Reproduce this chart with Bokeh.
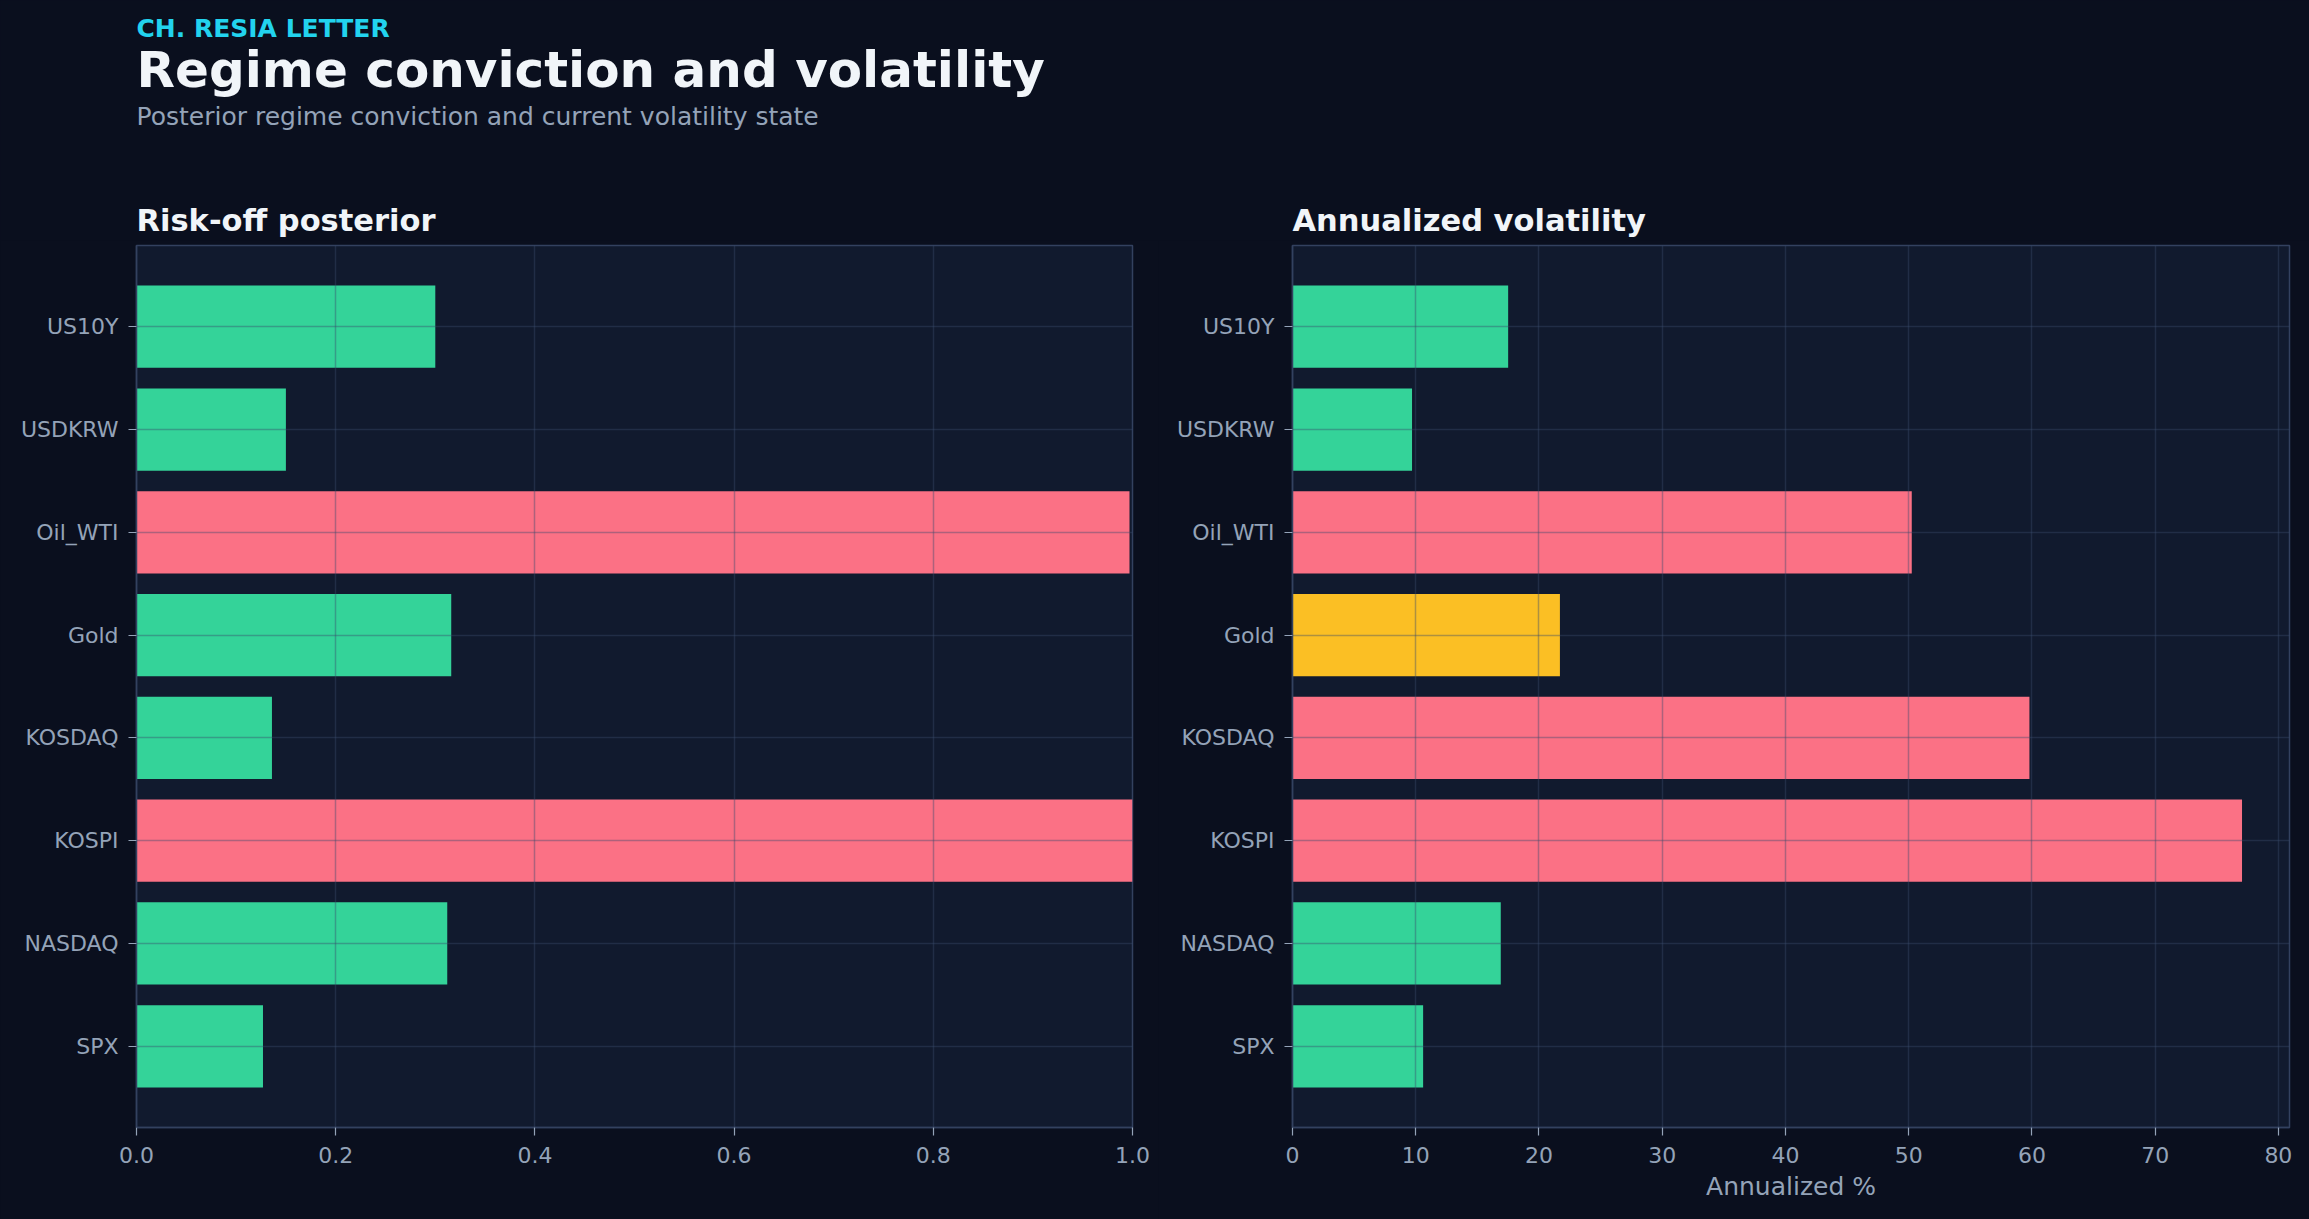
from bokeh.plotting import figure
from bokeh.layouts import row, column
from bokeh.models import (FactorRange, Range1d, FixedTicker, PrintfTickFormatter,
                          ColumnDataSource, GlobalInlineStyleSheet)
from bokeh.core.properties import value
from bokeh.embed import file_html
from bokeh.resources import INLINE

# ---------------- data ----------------
assets = ["US10Y", "USDKRW", "Oil_WTI", "Gold", "KOSDAQ", "KOSPI", "NASDAQ", "SPX"]  # top -> bottom
risk_off_posterior = [0.300, 0.150, 0.997, 0.316, 0.136, 1.000, 0.312, 0.127]
regime = ["risk_on", "risk_on", "risk_off", "risk_on", "risk_on", "risk_off", "risk_on", "risk_on"]
annualized_vol = [17.5, 9.7, 50.25, 21.7, 59.8, 77.05, 16.9, 10.6]
vol_state = ["low", "low", "high", "medium", "high", "high", "low", "low"]
posterior_ticks = [0.0, 0.2, 0.4, 0.6, 0.8, 1.0]
vol_ticks = [0, 10, 20, 30, 40, 50, 60, 70, 80]

kicker = "CH. RESIA LETTER"
title = "Regime conviction and volatility"
subtitle = "Posterior regime conviction and current volatility state"
left_title = "Risk-off posterior"
right_title = "Annualized volatility"
right_xlabel = "Annualized %"

# ---------------- style ----------------
PAGE_BG = "#0a0f1e"
PLOT_BG = "#111a2e"
SPINE = "#33415f"
TICK_TXT = "#94a3b8"
TITLE_TXT = "#f1f5f9"
KICKER_TXT = "#22d3ee"
GREEN = "#34d399"
RED = "#fb7185"
AMBER = "#fbbf24"
FONT = "DejaVu Sans"
regime_colors = {"risk_on": GREEN, "risk_off": RED}
vol_colors = {"low": GREEN, "medium": AMBER, "high": RED}

factors = list(reversed(assets))  # bottom -> top for y FactorRange

TOTAL_W, TOTAL_H = 2309, 1219
HEADER_H = 240
FRAME_TOP, FRAME_BOTTOM = 245, 1127
L_LEFT, L_RIGHT = 136, 1132
R_LEFT, R_RIGHT = 1292, 2289
W1 = 1158
W2 = TOTAL_W - W1
ROW_H = TOTAL_H - HEADER_H

# ---------------- header (text only) ----------------
hdr = figure(width=TOTAL_W, height=HEADER_H, output_backend="svg", toolbar_location=None,
             x_range=Range1d(0, TOTAL_W), y_range=Range1d(HEADER_H, 0),
             min_border=0, min_border_left=0, min_border_right=0,
             min_border_top=0, min_border_bottom=0)
hdr.axis.visible = False
hdr.grid.visible = False
hdr.outline_line_color = None
hdr.background_fill_color = PAGE_BG
hdr.border_fill_color = PAGE_BG


def htext(x, y, txt, size, color, bold):
    hdr.text(x=[x], y=[y], text=[txt], text_font=value(FONT), text_font_size=size,
             text_color=color, text_font_style="bold" if bold else "normal",
             text_baseline="alphabetic", text_align="left")


htext(L_LEFT, 27.5, kicker, "25px", KICKER_TXT, True)
htext(L_LEFT, 69.5, title, "50px", TITLE_TXT, True)
htext(L_LEFT, 116, subtitle, "25px", TICK_TXT, False)
htext(L_LEFT, 219.5, left_title, "30.5px", TITLE_TXT, True)
htext(R_LEFT, 219.5, right_title, "30.5px", TITLE_TXT, True)


def make_fig(width, border_left, border_right, x_range):
    p = figure(width=width, height=ROW_H, output_backend="svg", toolbar_location=None,
               y_range=FactorRange(factors=factors, range_padding=0.29,
                                   range_padding_units="absolute"),
               x_range=x_range,
               min_border_left=border_left, min_border_right=border_right,
               min_border_top=FRAME_TOP - HEADER_H, min_border_bottom=TOTAL_H - FRAME_BOTTOM)
    p.background_fill_color = PLOT_BG
    p.border_fill_color = PAGE_BG
    p.outline_line_color = SPINE
    p.outline_line_width = 1.5
    for ax in (p.xaxis[0], p.yaxis[0]):
        ax.axis_line_color = SPINE
        ax.axis_line_width = 1.5
        ax.major_tick_line_color = TICK_TXT
        ax.major_tick_line_width = 1.2
        ax.major_tick_out = 8
        ax.major_tick_in = 0
        ax.minor_tick_line_color = None
        ax.major_label_text_color = TICK_TXT
        ax.major_label_text_font = FONT
        ax.major_label_text_font_size = "22px"
    p.yaxis.major_label_standoff = 10
    p.xaxis.major_label_standoff = 11
    for g in (p.xgrid[0], p.ygrid[0]):
        g.grid_line_color = "#3a4a6b"
        g.grid_line_alpha = 0.4
        g.grid_line_width = 1.5
        g.level = "annotation"
    return p


# ---------------- left panel ----------------
p1 = make_fig(W1, L_LEFT, W1 - L_RIGHT, Range1d(0, 1))
src1 = ColumnDataSource(dict(asset=assets, value=risk_off_posterior,
                             color=[regime_colors[r] for r in regime]))
p1.hbar(y="asset", right="value", left=0, height=0.8, color="color", line_color=None, source=src1)
p1.xaxis.ticker = FixedTicker(ticks=posterior_ticks)
p1.xaxis.formatter = PrintfTickFormatter(format="%.1f")

# ---------------- right panel ----------------
vmax = max(annualized_vol) * 1.05
p2 = make_fig(W2, R_LEFT - W1, TOTAL_W - R_RIGHT, Range1d(0, vmax))
src2 = ColumnDataSource(dict(asset=assets, value=annualized_vol,
                             color=[vol_colors[s] for s in vol_state]))
p2.hbar(y="asset", right="value", left=0, height=0.8, color="color", line_color=None, source=src2)
p2.xaxis.ticker = FixedTicker(ticks=vol_ticks)
p2.xaxis.formatter = PrintfTickFormatter(format="%d")
p2.xaxis.axis_label = right_xlabel
p2.xaxis.axis_label_text_font = FONT
p2.xaxis.axis_label_text_font_size = "25px"
p2.xaxis.axis_label_text_font_style = "normal"
p2.xaxis.axis_label_text_color = TICK_TXT
p2.xaxis.axis_label_standoff = 6

layout = column(hdr, row(p1, p2, spacing=0), spacing=0)
layout.stylesheets = [GlobalInlineStyleSheet(css=f"html, body {{ background: {PAGE_BG}; }}")]

open("out.html", "w").write(file_html(layout, INLINE))
